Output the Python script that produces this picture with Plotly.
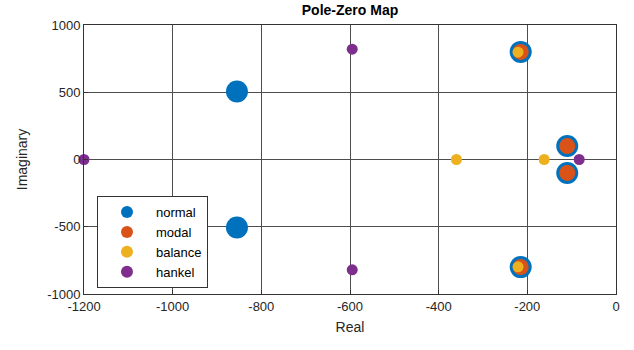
import plotly.graph_objects as go

series_names = ["normal", "modal", "balance", "hankel"]
colors = ["#0072BD", "#D95319", "#EDB120", "#7E2F8E"]
sizes = [22, 16, 11, 11]

normal_re = [-855, -855, -215, -215, -110, -110]
normal_im = [505, -505, 800, -800, 100, -100]
modal_re = [-215, -215, -110, -110]
modal_im = [800, -800, 100, -100]
balance_re = [-360, -162, -221, -221]
balance_im = [0, 0, 798, -798]
hankel_re = [-1200, -595, -595, -83]
hankel_im = [0, 820, -820, 0]

xticks = [-1200, -1000, -800, -600, -400, -200, 0]
yticks = [-1000, -500, 0, 500, 1000]

data = [(normal_re, normal_im), (modal_re, modal_im), (balance_re, balance_im), (hankel_re, hankel_im)]

fig = go.Figure()
for name, (xr, yi), c, s in zip(series_names, data, colors, sizes):
    fig.add_trace(go.Scatter(x=xr, y=yi, mode="markers", name=name,
                             marker=dict(color=c, size=s, line=dict(width=0)),
                             cliponaxis=False))

font = "Liberation Sans, Arial, sans-serif"
fig.update_layout(
    width=634, height=350,
    margin=dict(l=84, r=18, t=25, b=56),
    paper_bgcolor="white", plot_bgcolor="white",
    font=dict(family=font, size=13, color="#262626"),
    title=dict(text="<b>Pole-Zero Map</b>", x=0.5, xanchor="center", y=0.985, yanchor="top",
               xref="paper", font=dict(size=14, color="#000")),
    xaxis=dict(range=[-1200, 0], tickvals=xticks, ticktext=[str(v) for v in xticks],
               showgrid=True, gridcolor="#4d4d4d", gridwidth=1, zeroline=False,
               showline=True, linecolor="#333", linewidth=1, mirror=True,
               ticks="inside", ticklen=4, tickcolor="#333",
               title=dict(text="Real", font=dict(size=14), standoff=9),
               tickfont=dict(size=13, color="#262626")),
    yaxis=dict(range=[-1000, 1000], tickvals=yticks, ticktext=[str(v) for v in yticks],
               showgrid=True, gridcolor="#4d4d4d", gridwidth=1, zeroline=False,
               showline=True, linecolor="#333", linewidth=1, mirror=True,
               ticks="inside", ticklen=4, tickcolor="#333",
               title=dict(text="Imaginary", font=dict(size=14), standoff=16),
               tickfont=dict(size=13, color="#262626")),
    legend=dict(x=0.0244, y=0.364, xanchor="left", yanchor="top",
                bgcolor="white", bordercolor="#333", borderwidth=1,
                itemsizing="constant", itemwidth=48, font=dict(size=13, color="#000"),
                tracegroupgap=0),
    showlegend=True,
)

fig.write_html("out.html")
